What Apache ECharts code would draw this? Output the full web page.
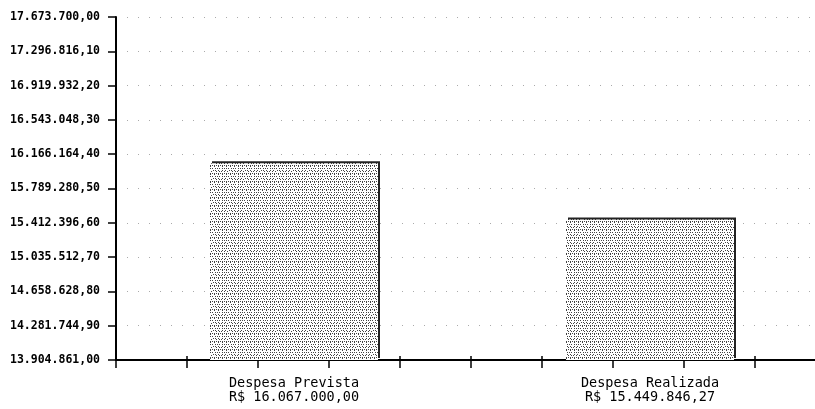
<!DOCTYPE html>
<html>
<head>
<meta charset="utf-8">
<script src="https://cdn.jsdelivr.net/npm/echarts@6/dist/echarts.min.js"></script>
<style>
  html, body { margin: 0; padding: 0; background: #fff; }
  #chart { width: 815px; height: 409px; }
</style>
</head>
<body>
<div id="chart"></div>
<script>
// Budget figures: planned vs executed expenditure
const categories = ['Despesa Prevista', 'Despesa Realizada'];
const amounts = [16067000.00, 15449846.27];

// Vertical scale: first tick, step between ticks, printed tick labels
const yBase = 13904861.00;
const yStep = 376883.90;
const yTickLabels = [
  '13.904.861,00', '14.281.744,90', '14.658.628,80', '15.035.512,70',
  '15.412.396,60', '15.789.280,50', '16.166.164,40', '16.543.048,30',
  '16.919.932,20', '17.296.816,10', '17.673.700,00'
];

function brl(v) {
  const parts = v.toFixed(2).split('.');
  const int = parts[0].replace(/\B(?=(\d{3})+(?!\d))/g, '.');
  return int + ',' + parts[1];
}

// Stippled fill for the bars
function makeStipple() {
  const rows = [
    '#.#.#..#.#.#..#.',
    '................',
    '.#...#.#..#...#.',
    '#..#....#..#.#..',
    '................',
    '#.#.#.#.#.#.#.#.',
    '..#...#...#...#.',
    '................'
  ];
  const c = document.createElement('canvas');
  c.width = rows[0].length;
  c.height = rows.length;
  const ctx = c.getContext('2d');
  ctx.fillStyle = '#ffffff';
  ctx.fillRect(0, 0, c.width, c.height);
  ctx.fillStyle = '#444444';
  rows.forEach((r, y) => {
    for (let x = 0; x < r.length; x++) if (r[x] === '#') ctx.fillRect(x, y, 1, 1);
  });
  return c;
}

const chart = echarts.init(document.getElementById('chart'), null, { renderer: 'canvas' });

const monoBold = { fontFamily: 'DejaVu Sans Mono', fontWeight: 'bold', fontSize: 11.5, color: '#000' };
const tickAxisMax = 712 / 71;

chart.setOption({
  animation: false,
  backgroundColor: '#ffffff',
  grid: { left: 116, top: 17, bottom: 49, width: 712, containLabel: false, outerBoundsMode: 'none' },
  xAxis: [
    {
      type: 'category',
      position: 'bottom',
      data: categories,
      axisLine: { show: false },
      axisTick: { show: false },
      splitLine: { show: false },
      axisLabel: {
        margin: 16,
        fontFamily: 'DejaVu Sans Mono',
        fontSize: 13.5,
        lineHeight: 14,
        color: '#000',
        formatter: (v, i) => v + '\n' + 'R$ ' + brl(amounts[i])
      }
    },
    {
      type: 'value',
      position: 'bottom',
      min: 0, max: tickAxisMax, interval: 1,
      axisLine: { show: true, lineStyle: { color: '#000', width: 2 } },
      axisTick: { show: true, length: 8, lineStyle: { color: '#000', width: 1.5 } },
      axisLabel: { show: false },
      splitLine: { show: false }
    },
    {
      type: 'value',
      position: 'bottom',
      min: 0, max: tickAxisMax, interval: 1,
      axisLine: { show: false },
      axisTick: { show: true, inside: true, length: 4, lineStyle: { color: '#000', width: 1.5 } },
      axisLabel: { show: false },
      splitLine: { show: false }
    }
  ],
  yAxis: [
    {
      type: 'value',
      min: 0, max: yStep * 10, interval: yStep,
      axisLine: { show: true, lineStyle: { color: '#000', width: 2 } },
      axisTick: { show: true, length: 8, lineStyle: { color: '#000', width: 1.5 } },
      axisLabel: Object.assign({
        margin: 16,
        formatter: v => yTickLabels[Math.round(v / yStep)]
      }, monoBold),
      splitLine: { show: true, lineStyle: { color: '#aaa', width: 1, type: [1, 10] } }
    },
    {
      type: 'value',
      min: 0, max: yStep * 10, interval: yStep,
      axisLine: { show: false },
      axisTick: { show: true, inside: true, length: 4, lineStyle: { color: '#000', width: 1.5 } },
      axisLabel: { show: false },
      splitLine: { show: false }
    }
  ],
  series: [{
    type: 'bar',
    xAxisIndex: 0,
    yAxisIndex: 0,
    barWidth: 168,
    data: amounts.map(v => v - yBase),
    itemStyle: {
      color: { image: makeStipple(), repeat: 'repeat' },
      // hard offset shadow gives the dark top and right edges
      shadowColor: '#222',
      shadowBlur: 0,
      shadowOffsetX: 2,
      shadowOffsetY: -2
    }
  }]
});
</script>
</body>
</html>
